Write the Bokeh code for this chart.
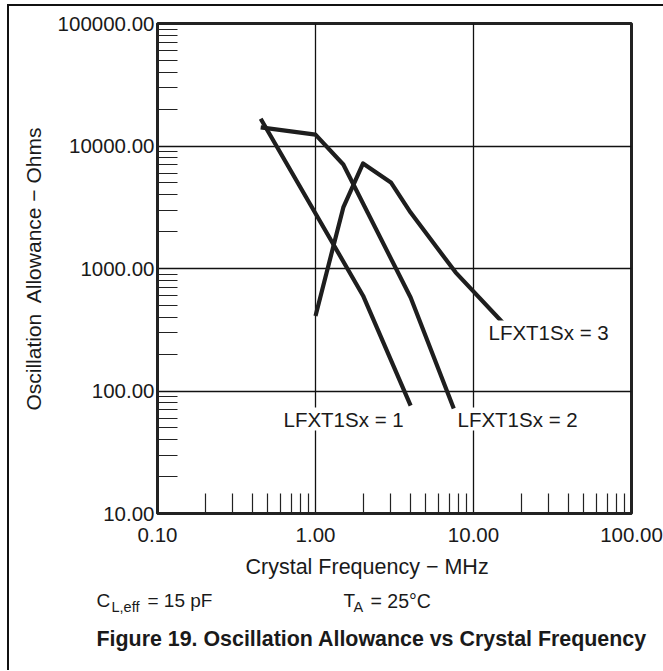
import math
from bokeh.plotting import figure
from bokeh.layouts import column
from bokeh.models import Range1d, FixedTicker, PrintfTickFormatter, Label
from bokeh.embed import file_html
from bokeh.resources import INLINE

# ---- data ----
freq_1 = [0.45, 2.0, 4.0]
allow_1 = [16700, 600, 76]

freq_2 = [0.45, 1.0, 1.5, 4.0, 7.5]
allow_2 = [14200, 12400, 7060, 580, 72]

freq_3 = [1.0, 1.5, 2.0, 3.0, 4.0, 7.7, 15.5]
allow_3 = [410, 3150, 7200, 5040, 2860, 930, 356]

x_major = [0.1, 1, 10, 100]
y_major = [10, 100, 1000, 10000, 100000]
x_minor = [m * 10.0 ** e for e in range(-1, 2) for m in range(2, 10)]
y_minor = [m * 10.0 ** e for e in range(1, 5) for m in range(2, 10)]

curve_labels = ["LFXT1Sx = 1", "LFXT1Sx = 2", "LFXT1Sx = 3"]
x_title = "Crystal Frequency \u2212 MHz"
y_title = "Oscillation\u00a0 Allowance \u2212 Ohms"
fig_title = "Figure 19. Oscillation Allowance vs Crystal Frequency"

FONT = "Liberation Sans"
INK = "#1a1a1a"

# canvas origin on the page (after the CSS margin + border of the column)
OX, OY = 9, 6
FRAME_L, FRAME_T, FRAME_R, FRAME_B = 157, 23, 631, 513
W = 654
H1 = 546
H2 = 118

p = figure(width=W, height=H1, x_axis_type="log", y_axis_type="log",
           x_range=Range1d(0.1, 100), y_range=Range1d(10, 100000),
           output_backend="svg", toolbar_location=None,
           min_border_left=FRAME_L - OX, min_border_right=OX + W - FRAME_R,
           min_border_top=FRAME_T - OY, min_border_bottom=OY + H1 - FRAME_B)
p.background_fill_color = "white"
p.border_fill_color = "white"
p.outline_line_color = "#222222"
p.outline_line_width = 3

for ax, major, minor in ((p.xaxis[0], x_major, x_minor), (p.yaxis[0], y_major, y_minor)):
    ax.ticker = FixedTicker(ticks=major, minor_ticks=minor)
    ax.formatter = PrintfTickFormatter(format="%.2f")
    ax.major_tick_in = 0
    ax.major_tick_out = 0
    ax.minor_tick_in = 20
    ax.minor_tick_out = 0
    ax.minor_tick_line_color = "#222222"
    ax.minor_tick_line_width = 1.2
    ax.axis_line_color = "#222222"
    ax.axis_line_width = 3
    ax.major_label_text_font = FONT
    ax.major_label_text_font_size = "20.5px"
    ax.major_label_text_color = INK

p.xaxis[0].major_label_standoff = 14
p.yaxis[0].major_label_standoff = 3
p.yaxis[0].axis_label = y_title
p.yaxis[0].axis_label_text_font = FONT
p.yaxis[0].axis_label_text_font_size = "21px"
p.yaxis[0].axis_label_text_font_style = "normal"
p.yaxis[0].axis_label_text_color = INK
p.yaxis[0].axis_label_standoff = 10

for g in (p.xgrid[0], p.ygrid[0]):
    g.grid_line_color = "#111111"
    g.grid_line_width = 1.3

for fx, ay in ((freq_1, allow_1), (freq_2, allow_2), (freq_3, allow_3)):
    p.line(fx, ay, line_width=4.2, line_color="#1e1e1e", line_join="round")


def lab(fig, px, py, text, size, bottom, bold=False, bg=None):
    # px, py: page position of the text's left end and baseline
    # screen units: x from frame left, y up from frame bottom
    fs = float(size.replace("px", ""))
    py = py - 0.41 * fs  # empirical baseline correction of the svg renderer
    kw = dict(x=px - bottom[0], y=bottom[1] - py, x_units="screen", y_units="screen",
              text=text, text_font=FONT, text_font_size=size, text_color=INK,
              text_baseline="alphabetic", text_align="left")
    if bold:
        kw["text_font_style"] = "bold"
    if bg:
        kw["background_fill_color"] = bg
    fig.add_layout(Label(**kw))


fb = (FRAME_L, FRAME_B)
lab(p, 283, 427, curve_labels[0], "20.5px", fb, bg="white")
lab(p, 457, 427, curve_labels[1], "20.5px", fb, bg="white")
lab(p, 488, 340, curve_labels[2], "20.5px", fb, bg="white")

# ---- lower text panel ----
p2 = figure(width=W, height=H2, x_range=Range1d(0, W), y_range=Range1d(0, H2),
            output_backend="svg", toolbar_location=None,
            x_axis_location=None, y_axis_location=None, min_border=0)
p2.grid.visible = False
p2.outline_line_color = None
p2.background_fill_color = "white"
p2.border_fill_color = "white"
for fig in (p, p2):
    if "frame_align" in fig.properties():
        fig.frame_align = False

pb = (OX, OY + H1 + H2)
lab(p2, 245, 575, x_title, "21.5px", pb)
lab(p2, 96, 608, "C", "19px", pb)
lab(p2, 111, 612, "L,eff", "14.5px", pb)
lab(p2, 147, 608, "= 15 pF", "19px", pb)
lab(p2, 343, 608, "T", "19px", pb)
lab(p2, 353, 612, "A", "14.5px", pb)
lab(p2, 370, 608, "= 25\u00b0C", "19.5px", pb)
lab(p2, 96, 647, fig_title, "21.4px", pb, bold=True)

layout = column(p, p2, spacing=0,
                styles={"margin-top": "4px", "margin-left": "7px",
                        "border-top": "2px solid #111111",
                        "border-left": "2px solid #111111"})

open("out.html", "w").write(file_html(layout, INLINE))
